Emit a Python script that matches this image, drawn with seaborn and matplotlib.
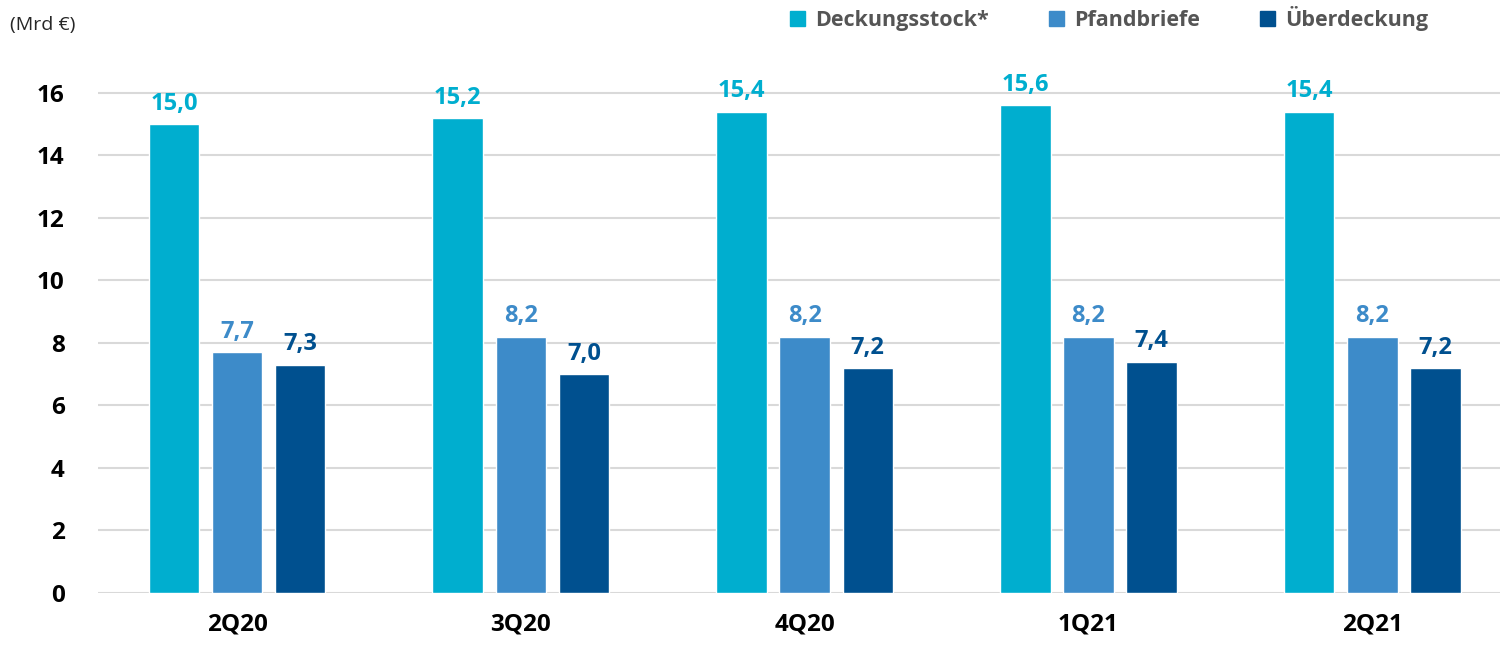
import numpy as np
import pandas as pd
import matplotlib.pyplot as plt
import seaborn as sns

# Daten
quartale = ["2Q20", "3Q20", "4Q20", "1Q21", "2Q21"]
deckungsstock = [15.0, 15.2, 15.4, 15.6, 15.4]
pfandbriefe = [7.7, 8.2, 8.2, 8.2, 8.2]
ueberdeckung = [7.3, 7.0, 7.2, 7.4, 7.2]
serien = ["Deckungsstock*", "Pfandbriefe", "Überdeckung"]
farben = ["#00AECF", "#3D8BC9", "#00508F"]

df = pd.DataFrame({
    "Quartal": quartale * 3,
    "Serie": np.repeat(serien, len(quartale)),
    "Wert": deckungsstock + pfandbriefe + ueberdeckung,
})

sns.set_style("white")
plt.rcParams["font.family"] = ["Open Sans", "DejaVu Sans"]

fig = plt.figure(figsize=(15, 6.47), dpi=100)
ax = fig.add_axes([0.0653, 0.0835, 0.9347, 0.8455])

sns.barplot(data=df, x="Quartal", y="Wert", hue="Serie", hue_order=serien,
            palette=farben, width=0.667, gap=0.2, ax=ax, legend=False,
            saturation=1, errorbar=None)

# Werte über den Balken
for cont, farbe in zip(ax.containers, farben):
    labels = [f"{b.get_height():.1f}".replace(".", ",") for b in cont]
    ax.bar_label(cont, labels=labels, padding=6, color=farbe,
                 fontsize=17, fontweight="bold")

ax.set_ylim(0, 17.5)
ax.set_xlim(-0.49, 4.45)
ax.set_yticks(range(0, 17, 2))
ax.yaxis.grid(True, color="#d9d9d9", linewidth=1.5)
ax.set_axisbelow(True)
for s in ax.spines.values():
    s.set_visible(False)
ax.tick_params(axis="y", length=0, labelsize=17.5, pad=24, labelcolor="black")
ax.tick_params(axis="x", length=0, labelsize=17.5, pad=14, labelcolor="black")
for t in ax.get_yticklabels() + ax.get_xticklabels():
    t.set_fontweight("bold")
ax.set_xlabel("")
ax.set_ylabel("")

fig.text(0.007, 0.962, "(Mrd €)", fontsize=14, va="center", ha="left")

# Legende oben
handles = [plt.Rectangle((0, 0), 1, 1, color=c) for c in farben]
fig.legend(handles, serien, loc="center left", bbox_to_anchor=(0.514, 0.972),
           ncol=3, frameon=False, handlelength=0.7,
           handleheight=0.7, handletextpad=0.45, columnspacing=2.8,
           labelcolor="#555555", prop={"weight": "bold", "size": 15.5})

fig.savefig("out.png", dpi=100)
